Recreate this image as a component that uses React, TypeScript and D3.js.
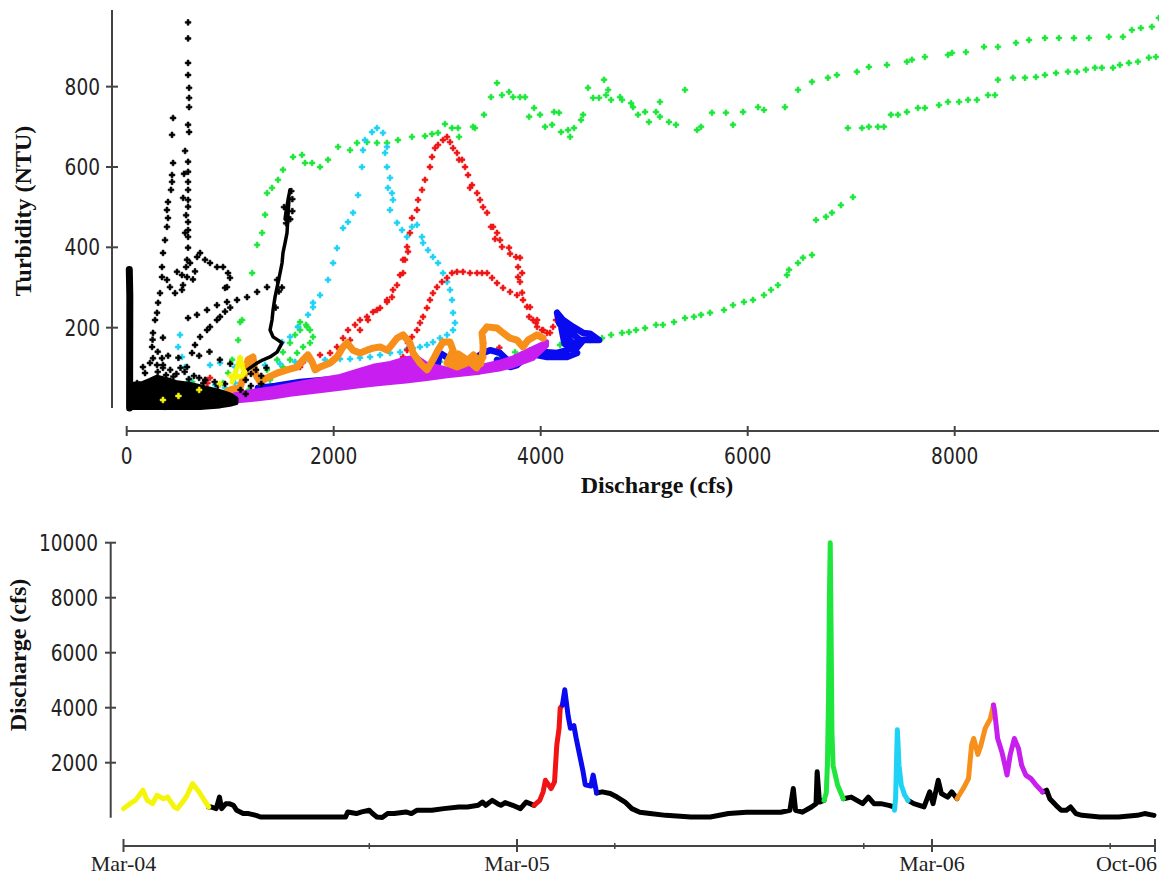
import { useEffect, useRef } from 'react'
import * as d3 from 'd3'

type Pt = [number, number]
type Band = [number, number, number] // discharge, low NTU, high NTU
type Flow = [string, number]

// ---- Top panel: turbidity (NTU) vs discharge (cfs), one colour per storm event ----
const greenDots: Pt[] = [
  [585, 62], [633, 65], [930, 62], [980, 87], [1030, 75], [1048, 50], [1180, 45], [1019, 120], [1077, 169], [1096, 214],
  [1260, 45], [1318, 57], [1385, 70], [1453, 87], [1510, 102], [1578, 120], [1646, 137], [1704, 152], [1771, 162],
  [1800, 177], [1771, 194], [1742, 202], [1733, 207], [1675, 214], [1675, 194], [1627, 182], [1578, 162], [1510, 139],
  [1453, 120], [1356, 95], [1260, 75], [1656, 202],
  [1115, 219], [1212, 336], [1260, 406], [1308, 436], [1337, 481], [1356, 535], [1404, 548], [1462, 568], [1510, 593],
  [1607, 625], [1694, 630], [1723, 610], [1791, 610], [1868, 600], [1945, 618], [2042, 650], [2158, 642], [2225, 660],
  [2322, 662], [2418, 660], [2515, 660], [2621, 667], [2756, 675], [2882, 677], [2950, 682], [3008, 685], [3075, 707],
  [3143, 697], [3201, 697], [3211, 675], [3346, 700], [3365, 697], [3452, 730], [3520, 774], [3578, 809], [3626, 779],
  [3694, 787], [3733, 774], [3800, 774], [3849, 774], [3888, 725], [3936, 747], [3994, 730], [4042, 700], [4110, 705],
  [4129, 737], [4177, 735], [4197, 687], [4264, 692], [4284, 675], [4322, 697], [4390, 717], [4409, 730], [4457, 797],
  [4506, 772], [4564, 772], [4612, 817], [4632, 779], [4651, 792], [4680, 767], [4767, 774], [4786, 767], [4873, 759],
  [4892, 749], [4940, 730], [5008, 737], [5046, 712], [5114, 737], [5152, 725], [5152, 762], [5239, 712], [5307, 705],
  [5394, 792], [5510, 692], [5549, 700], [5655, 735], [5790, 735], [5858, 705], [5955, 737], [6100, 749], [6157, 742],
  [6360, 749], [6486, 792], [6621, 812], [6775, 822], [6862, 829], [7055, 837], [7171, 849], [7345, 854], [7538, 862],
  [7587, 867], [7712, 874], [7935, 879], [7974, 884], [8109, 886], [8283, 899], [8418, 899], [8592, 909], [8718, 916],
  [8872, 921], [9007, 921], [9152, 921], [9297, 921], [9490, 924], [9625, 924], [9712, 941], [9799, 946], [9905, 949],
  [9973, 971],
  [9944, 874], [9876, 872], [9770, 862], [9683, 859], [9596, 854], [9529, 847], [9422, 847], [9355, 847], [9268, 842],
  [9181, 837], [9094, 837], [8979, 834], [8872, 829], [8785, 824], [8679, 822], [8563, 822], [8418, 817], [8389, 779],
  [8322, 779], [8215, 767], [8129, 767], [8042, 762], [7935, 762], [7848, 754], [7712, 747], [7645, 747], [7538, 737],
  [7452, 730], [7384, 730], [7316, 700], [7258, 700], [7171, 700], [7104, 697], [6968, 697],
  [7017, 525], [6901, 505], [6814, 486], [6756, 476], [6660, 468], [6621, 381], [6534, 374], [6486, 361], [6399, 344],
  [6379, 331], [6292, 306], [6225, 294], [6157, 281], [6051, 269], [5964, 264], [5858, 256], [5771, 244], [5636, 237],
  [5549, 232], [5481, 227], [5394, 224], [5288, 214], [5181, 207], [5114, 207], [5008, 199], [4921, 194], [4853, 189],
  [4786, 187], [4680, 182], [4593, 174], [4477, 169], [4332, 164], [4187, 157], [4042, 152], [3897, 144], [3752, 139],
  [3607, 132], [3414, 127], [3220, 120], [3027, 115], [2834, 107], [2641, 100], [2448, 90], [2254, 82], [2061, 75],
]

const cyanDots: Pt[] = [
  [370, 2], [351, 27], [370, 20], [418, 45], [497, 152], [515, 182], [534, 127], [563, 102], [612, 70], [855, 57],
  [950, 50], [1046, 62], [1143, 70], [805, 107], [902, 112],
  [1046, 102], [1191, 105], [1336, 107], [1481, 110], [1626, 115], [1771, 117], [1916, 120], [2061, 122], [2158, 122],
  [2254, 125], [2351, 127], [2448, 132], [2545, 137], [2641, 139], [2709, 147], [2767, 149], [2834, 152], [2901, 157],
  [2959, 164], [3027, 174], [3095, 182], [3153, 194],
  [3172, 212], [3153, 237], [3143, 269], [3124, 294], [3095, 314], [3056, 336], [3008, 361], [2959, 376], [2911, 393],
  [2863, 411], [2853, 426], [2805, 456], [2756, 451], [2708, 426], [2660, 443], [2612, 461], [2544, 493], [2573, 518],
  [2563, 535], [2524, 548], [2544, 573], [2515, 600], [2496, 635], [2515, 650], [2476, 685], [2418, 697], [2370, 687],
  [2302, 667], [2283, 642], [2273, 600], [2235, 530], [2187, 486], [2138, 463], [2090, 448], [2032, 398], [1994, 361],
  [1945, 319], [1868, 281], [1800, 262], [1800, 251], [1752, 232], [1656, 202], [1578, 177], [1501, 164],
]

const redDots: Pt[] = [
  [758, 70], [805, 75], [780, 62], [1675, 102], [1704, 114], [1742, 132], [1868, 132], [1965, 137], [2032, 152],
  [2090, 174], [2138, 194], [2158, 169], [2206, 207], [2254, 219], [2254, 194], [2322, 227], [2331, 219], [2380, 239],
  [2418, 244], [2448, 249], [2515, 269], [2515, 264], [2563, 276], [2573, 294], [2612, 306], [2641, 331], [2670, 336],
  [2670, 369], [2689, 369], [2709, 401], [2718, 389], [2737, 436], [2756, 473], [2805, 493], [2815, 518], [2853, 543],
  [2882, 568], [2930, 600], [2950, 625], [2979, 647], [3008, 655], [3056, 667], [3095, 675], [3124, 662], [3153, 647],
  [3191, 635], [3211, 618], [3240, 618], [3269, 600], [3298, 580], [3317, 548], [3336, 555], [3385, 535], [3414, 518],
  [3443, 500], [3482, 486], [3520, 451], [3540, 451], [3578, 436], [3559, 421], [3607, 418], [3626, 401], [3694, 399],
  [3704, 384], [3762, 376], [3800, 374], [3781, 351], [3820, 336], [3781, 326], [3800, 314], [3820, 287], [3829, 269],
  [3868, 252], [3888, 227], [3926, 219], [3955, 212], [3965, 202], [4013, 194], [4061, 187], [4090, 187], [4119, 202],
  [4148, 219], [4023, 194], [3965, 219], [3897, 251], [3771, 281], [3704, 289], [3636, 299], [3578, 311], [3530, 324],
  [3482, 336], [3433, 336], [3385, 336], [3317, 336], [3249, 339], [3191, 339], [3143, 336], [3095, 324], [3046, 314],
  [2998, 301], [2959, 286], [2930, 269], [2901, 249], [2863, 227], [2834, 212], [2805, 194], [2756, 177], [2718, 162],
  [2709, 144], [2670, 127], [3443, 162], [3600, 150],
]

const blueTrail: Pt[] = [
  [1268, 50], [1433, 55], [1675, 65], [1897, 70], [2129, 75], [2322, 87], [2448, 100], [2641, 90], [2834, 77],
  [2930, 87], [2998, 102], [3027, 137], [3100, 125], [3200, 120], [3300, 118], [3385, 127], [3443, 137], [3511, 144],
  [3607, 137], [3675, 120], [3771, 115], [3868, 124], [3965, 137], [4061, 139], [4158, 137], [4255, 144], [4351, 162],
  [4409, 170], [4477, 169], [4564, 169], [4477, 185], [4409, 187], [4313, 202], [4216, 219], [4158, 237], [4180, 210],
  [4250, 195], [4330, 180], [4400, 165], [4351, 150], [4260, 175], [4200, 200], [4230, 160], [4351, 137], [4255, 127],
  [4158, 127], [4061, 127], [3965, 132], [3897, 132], [3829, 120], [3771, 107], [3704, 102], [3636, 112], [3578, 120],
]

// the dense magenta cloud: lower and upper edge at each discharge
const magentaBand: Band[] = [
  [740, 3, 14], [971, 14, 32], [1200, 20, 42], [1414, 26, 50], [1578, 33, 58], [1742, 38, 66], [2061, 48, 80],
  [2250, 54, 95], [2380, 58, 105], [2545, 62, 112], [2700, 66, 124], [2800, 69, 128], [2900, 72, 110],
  [3095, 79, 98], [3414, 88, 104], [3600, 96, 115], [3733, 104, 126], [3926, 122, 150], [4061, 155, 166],
]

const orangeTrail: Pt[] = [
  [691, 20], [739, 15], [900, 30], [1000, 45], [1096, 52], [1143, 87], [1172, 120], [1220, 127], [1240, 87],
  [1288, 65], [1356, 75], [1453, 87], [1549, 95], [1646, 102], [1704, 120], [1752, 132], [1791, 115], [1820, 95],
  [1868, 102], [1965, 112], [2032, 127], [2090, 152], [2129, 162], [2187, 144], [2254, 137], [2322, 144], [2380, 149],
  [2448, 152], [2515, 144], [2545, 152], [2612, 174], [2670, 182], [2737, 162], [2767, 137], [2834, 112], [2901, 95],
  [2959, 120], [3008, 144], [3056, 164], [3124, 164], [3153, 144], [3095, 112], [3191, 102], [3288, 112], [3385, 120],
  [3443, 127], [3380, 100], [3300, 118], [3200, 135], [3140, 122], [3250, 108], [3350, 132], [3420, 110], [3443, 145],
  [3443, 162], [3433, 187], [3482, 202], [3578, 199], [3636, 187], [3704, 174], [3771, 169], [3829, 152], [3878, 169],
  [3965, 182], [4023, 174],
]

const blackColumn: Pt[] = [[28, 0], [30, 280], [25, 345]]

// the dense black cloud near the origin: lower and upper edge
const blackBand: Band[] = [
  [40, 0, 60], [150, 0, 62], [225, 0, 70], [293, 0, 78], [418, 0, 70], [486, 0, 64], [612, 0, 60],
  [709, 0, 54], [805, 2, 48], [902, 4, 42], [998, 8, 34], [1060, 12, 24],
]

const blackChain: Pt[] = [
  [1578, 543], [1560, 520], [1540, 490], [1530, 470], [1549, 476], [1559, 505], [1569, 525], [1549, 436], [1530, 411],
  [1510, 386], [1501, 361], [1482, 336], [1433, 276], [1414, 244], [1404, 219], [1385, 194], [1414, 177], [1462, 169],
  [1501, 162], [1453, 139], [1385, 127], [1318, 120], [1260, 112], [1192, 100], [1125, 87],
]

const blackDots: Pt[] = [
  [593, 960], [593, 920], [593, 859], [593, 829], [603, 797], [603, 772], [603, 749], [593, 705], [603, 687],
  [593, 613], [593, 588], [593, 563], [593, 543], [593, 518], [593, 501], [593, 463], [593, 443], [593, 426],
  [593, 399], [583, 369], [574, 351], [583, 326], [564, 436], [545, 523], [554, 583], [574, 480], [564, 640],
  [448, 722], [438, 680], [448, 610], [438, 580], [438, 563], [428, 543], [399, 513], [389, 493], [399, 473],
  [389, 451], [370, 418], [351, 386], [341, 351], [341, 326], [322, 286], [303, 262], [293, 237], [274, 219],
  [254, 187], [245, 152], [254, 124], [293, 107], [225, 112], [157, 102], [177, 87], [100, 62], [341, 124], [351, 107],
  [486, 339], [534, 331], [544, 306], [534, 294], [467, 286], [418, 301], [389, 319], [612, 361], [680, 376],
  [709, 386], [757, 369], [805, 361], [873, 351], [931, 351], [979, 336], [998, 324], [969, 301], [950, 299],
  [660, 340], [640, 320],
  [593, 224], [679, 232], [776, 244], [872, 256], [969, 264], [1066, 269], [1163, 276], [1260, 289], [1356, 301],
  [1453, 319], [583, 102], [631, 137], [660, 157], [709, 177], [776, 194], [805, 202], [872, 219], [902, 227],
  [950, 240], [1000, 250], [300, 140], [400, 130], [500, 125], [700, 130], [800, 140], [900, 120], [1000, 110],
  [250, 170], [350, 175], [1520, 500], [1600, 520], [1580, 470], [1600, 490], [1540, 460], [1590, 540], [1500, 300],
  [1470, 290], [1440, 250],
  [300, 90], [350, 100], [420, 95], [480, 85], [520, 100], [560, 90], [650, 80], [700, 75], [760, 70], [850, 65],
  [950, 60], [1150, 70], [1200, 85], [1250, 95], [1300, 80], [1350, 100], [1300, 60], [1200, 55], [380, 82],
  [450, 78], [600, 72], [740, 62], [880, 55], [1100, 45], [1150, 35],
]

const yellowTrail: Pt[] = [
  [1019, 65], [1067, 100], [1096, 125], [1125, 95], [1143, 90], [1110, 80], [1067, 77], [1048, 90],
]
const yellowDots: Pt[] = [
  [1096, 125], [1110, 110], [1000, 80], [900, 60], [700, 45], [500, 30], [350, 20],
]

const topXTicks = [0, 2000, 4000, 6000, 8000]
const topYTicks = [200, 400, 600, 800]

// ---- Bottom panel: discharge hydrograph, coloured by event ----
const yellowFlow: Flow[] = [
  ['2004-03-01', 330], ['2004-03-07', 510], ['2004-03-12', 630], ['2004-03-19', 1000], ['2004-03-23', 630],
  ['2004-03-28', 510], ['2004-04-01', 815], ['2004-04-07', 690], ['2004-04-11', 750], ['2004-04-17', 390],
  ['2004-04-20', 330], ['2004-04-26', 630], ['2004-04-29', 815], ['2004-05-04', 1240], ['2004-05-10', 940],
  ['2004-05-15', 630], ['2004-05-19', 390],
]
const blackFlow1: Flow[] = [
  ['2004-05-19', 390], ['2004-05-21', 390], ['2004-05-26', 330], ['2004-05-29', 750], ['2004-05-31', 330],
  ['2004-06-04', 510], ['2004-06-07', 510], ['2004-06-11', 450], ['2004-06-14', 270], ['2004-06-20', 150],
  ['2004-06-25', 150], ['2004-07-02', 85], ['2004-07-06', 25], ['2004-07-13', 25], ['2004-07-31', 25],
  ['2004-08-17', 25], ['2004-09-04', 25], ['2004-09-23', 25], ['2004-09-25', 210], ['2004-10-03', 150],
  ['2004-10-08', 210], ['2004-10-15', 270], ['2004-10-18', 150], ['2004-10-22', 25], ['2004-10-27', 10],
  ['2004-11-01', 150], ['2004-11-07', 150], ['2004-11-18', 210], ['2004-11-23', 150], ['2004-11-28', 270],
  ['2004-12-12', 270], ['2004-12-23', 330], ['2005-01-06', 390], ['2005-01-14', 390], ['2005-01-24', 450],
  ['2005-01-28', 570], ['2005-01-31', 450], ['2005-02-06', 630], ['2005-02-11', 510], ['2005-02-14', 450],
  ['2005-02-18', 550], ['2005-02-25', 450], ['2005-03-04', 330], ['2005-03-09', 570], ['2005-03-16', 450],
]
const redFlow: Flow[] = [
  ['2005-03-16', 450], ['2005-03-21', 630], ['2005-03-24', 940], ['2005-03-26', 1360], ['2005-03-29', 1180],
  ['2005-03-31', 1060], ['2005-04-03', 1300], ['2005-04-05', 2640], ['2005-04-07', 3250], ['2005-04-08', 3980],
  ['2005-04-10', 4100],
]
const blueFlow: Flow[] = [
  ['2005-04-10', 4100], ['2005-04-12', 4650], ['2005-04-15', 3700], ['2005-04-17', 3250], ['2005-04-20', 3350],
  ['2005-04-22', 2900], ['2005-04-25', 2300], ['2005-04-28', 1700], ['2005-04-30', 1200], ['2005-05-05', 1150],
  ['2005-05-07', 1550], ['2005-05-10', 900],
]
const blackFlow2: Flow[] = [
  ['2005-05-10', 900], ['2005-05-15', 940], ['2005-05-22', 880], ['2005-05-28', 750], ['2005-06-04', 570],
  ['2005-06-10', 330], ['2005-06-17', 200], ['2005-06-26', 150], ['2005-07-10', 85], ['2005-08-01', 25],
  ['2005-08-18', 25], ['2005-09-03', 150], ['2005-09-19', 200], ['2005-10-06', 200], ['2005-10-19', 200],
  ['2005-10-27', 270], ['2005-10-30', 1060], ['2005-11-01', 270], ['2005-11-07', 200], ['2005-11-15', 390],
  ['2005-11-19', 510], ['2005-11-20', 1670], ['2005-11-22', 570], ['2005-11-26', 630],
]
const greenFlow: Flow[] = [
  ['2005-11-26', 630], ['2005-11-28', 900], ['2005-11-29', 1900], ['2005-11-30', 4300], ['2005-11-30T18:00', 8000],
  ['2005-12-01T12:00', 10000], ['2005-12-02T06:00', 6800], ['2005-12-03', 3100], ['2005-12-04', 1900],
  ['2005-12-08', 1180], ['2005-12-13', 690],
]
const blackFlow3: Flow[] = [
  ['2005-12-13', 690], ['2005-12-20', 750], ['2005-12-30', 510], ['2006-01-04', 750], ['2006-01-09', 510],
  ['2006-01-15', 510], ['2006-01-22', 450], ['2006-01-27', 390],
]
const cyanFlow: Flow[] = [
  ['2006-01-27', 270], ['2006-01-28', 700], ['2006-01-29T12:00', 3200], ['2006-01-30', 2800], ['2006-01-31', 1900],
  ['2006-02-02', 1180], ['2006-02-05', 820], ['2006-02-08', 630],
]
const blackFlow4: Flow[] = [
  ['2006-02-08', 630], ['2006-02-13', 510], ['2006-02-22', 390], ['2006-02-27', 940], ['2006-03-02', 510],
  ['2006-03-07', 1360], ['2006-03-10', 880], ['2006-03-16', 750], ['2006-03-20', 940], ['2006-03-25', 690],
]
const orangeFlow: Flow[] = [
  ['2006-03-25', 690], ['2006-03-31', 1060], ['2006-04-05', 1420], ['2006-04-08', 2640], ['2006-04-10', 2880],
  ['2006-04-14', 2300], ['2006-04-17', 2640], ['2006-04-21', 3250], ['2006-04-26', 3600], ['2006-04-29', 4100],
]
const magentaFlow: Flow[] = [
  ['2006-04-29', 4100], ['2006-04-30', 3900], ['2006-05-03', 2880], ['2006-05-07', 2400], ['2006-05-10', 1910],
  ['2006-05-12', 1550], ['2006-05-15', 2280], ['2006-05-19', 2880], ['2006-05-23', 2520], ['2006-05-26', 1910],
  ['2006-05-30', 1550], ['2006-06-04', 1420], ['2006-06-09', 1180], ['2006-06-15', 940],
]
const blackFlow5: Flow[] = [
  ['2006-06-15', 940], ['2006-06-19', 1000], ['2006-06-22', 690], ['2006-06-28', 450], ['2006-07-03', 270],
  ['2006-07-08', 270], ['2006-07-12', 390], ['2006-07-17', 150], ['2006-07-23', 85], ['2006-08-09', 25],
  ['2006-08-27', 25], ['2006-09-14', 85], ['2006-09-21', 150], ['2006-09-30', 85],
]

const bottomYTicks = [2000, 4000, 6000, 8000, 10000]
const dateLabels: [string, string][] = [
  ['2004-03-01', 'Mar-04'], ['2005-03-01', 'Mar-05'], ['2006-03-01', 'Mar-06'], ['2006-10-01', 'Oct-06'],
]
const minorDates = ['2004-10-15', '2005-05-26', '2005-12-31', '2006-08-19']

const C = {
  black: '#000000',
  green: '#1ee63c',
  cyan: '#1ed2f5',
  red: '#f01414',
  blue: '#0a0af0',
  orange: '#f7901a',
  magenta: '#c81ef0',
  yellow: '#f5f50a',
}

const W = 1159
const H = 877
const AXIS = '#444'
const TICK_FONT = "'DejaVu Sans', 'Open Sans', sans-serif"
const TITLE_FONT = "'Liberation Serif', 'Times New Roman', serif"

const parseDay = (s: string) => new Date(s.length === 10 ? `${s}T00:00:00` : `${s}:00`)

const App = () => {
  const ref = useRef<SVGSVGElement>(null)

  useEffect(() => {
    if (!ref.current) return
    const svg = d3.select(ref.current)
    svg.selectAll('*').remove()

    const tickLabel = (
      g: d3.Selection<SVGGElement, unknown, null, undefined>,
      x: number,
      y: number,
      label: string,
      anchor: string
    ) => {
      g.append('text')
        .attr('x', x)
        .attr('y', y)
        .attr('dy', '0.35em')
        .attr('text-anchor', anchor)
        .attr('textLength', label.length * 11.8)
        .attr('lengthAdjust', 'spacingAndGlyphs')
        .style('font-family', TICK_FONT)
        .style('font-stretch', 'condensed')
        .style('font-size', '23px')
        .style('fill', '#222')
        .text(label)
    }

    // ================= TOP: scatter =================
    const top = svg.append('g')
    const x = d3.scaleLinear().domain([0, 10000]).range([126.7, 1161.7])
    const y = d3.scaleLinear().domain([0, 1000]).range([408, 6.3])

    const trail = d3
      .line<Pt>()
      .x((d) => x(d[0]))
      .y((d) => y(d[1]))

    const band = d3
      .area<Band>()
      .x((d) => x(d[0]))
      .y0((d) => y(d[1]))
      .y1((d) => y(d[2]))

    const drawTrail = (data: Pt[], color: string, width: number) => {
      top
        .append('path')
        .datum(data)
        .attr('d', trail)
        .attr('fill', 'none')
        .attr('stroke', color)
        .attr('stroke-width', width)
        .attr('stroke-linejoin', 'round')
        .attr('stroke-linecap', 'round')
    }

    const drawBand = (data: Band[], color: string) => {
      top
        .append('path')
        .datum(data)
        .attr('d', band)
        .attr('fill', color)
        .attr('stroke', color)
        .attr('stroke-width', 4)
        .attr('stroke-linejoin', 'round')
    }

    const marker = d3.symbol().type(d3.symbolCross).size(18)
    const drawDots = (data: Pt[], color: string) => {
      top
        .append('g')
        .selectAll('path')
        .data(data)
        .enter()
        .append('path')
        .attr('d', marker)
        .attr('transform', (d) => `translate(${x(d[0])},${y(d[1])})`)
        .attr('fill', color)
        .attr('stroke', color)
        .attr('stroke-width', 0.6)
    }

    drawDots(greenDots, C.green)
    drawDots(cyanDots, C.cyan)
    drawDots(redDots, C.red)
    drawTrail(blueTrail, C.blue, 6.5)
    drawBand(magentaBand, C.magenta)
    drawTrail(orangeTrail, C.orange, 7)
    drawTrail(blackColumn, C.black, 7)
    drawBand(blackBand, C.black)
    drawTrail(blackChain, C.black, 3.5)
    drawDots(blackDots, C.black)
    drawTrail(yellowTrail, C.yellow, 5)
    drawDots(yellowDots, C.yellow)

    // y axis
    top.append('line')
      .attr('x1', 112).attr('x2', 112)
      .attr('y1', 10).attr('y2', y(0))
      .attr('stroke', AXIS).attr('stroke-width', 2)
    topYTicks.forEach((t) => {
      top.append('line')
        .attr('x1', 106).attr('x2', 118)
        .attr('y1', y(t)).attr('y2', y(t))
        .attr('stroke', AXIS).attr('stroke-width', 2)
      tickLabel(top, 100, y(t), String(t), 'end')
    })

    // x axis
    const axisY = 431
    top.append('line')
      .attr('x1', x(0)).attr('x2', W)
      .attr('y1', axisY).attr('y2', axisY)
      .attr('stroke', AXIS).attr('stroke-width', 2.2)
    topXTicks.forEach((t) => {
      top.append('line')
        .attr('x1', x(t)).attr('x2', x(t))
        .attr('y1', axisY - 5).attr('y2', axisY + 5)
        .attr('stroke', AXIS).attr('stroke-width', 2)
      tickLabel(top, x(t), 456, String(t), 'middle')
    })

    top.append('text')
      .attr('x', 657)
      .attr('y', 493)
      .attr('text-anchor', 'middle')
      .style('font-family', TITLE_FONT)
      .style('font-weight', '700')
      .style('font-size', '24px')
      .style('fill', '#111')
      .text('Discharge (cfs)')

    top.append('text')
      .attr('transform', 'translate(23,211) rotate(-90)')
      .attr('dy', '0.35em')
      .attr('text-anchor', 'middle')
      .style('font-family', TITLE_FONT)
      .style('font-weight', '700')
      .style('font-size', '24px')
      .style('fill', '#111')
      .text('Turbidity (NTU)')

    // ================= BOTTOM: hydrograph =================
    const bot = svg.append('g')
    const bx = d3
      .scaleTime()
      .domain(dateLabels.map((d) => parseDay(d[0])))
      .range([123.5, 517, 932, 1155])
    const by = d3.scaleLinear().domain([0, 10000]).range([817.7, 542.7])

    const flowLine = d3
      .line<Flow>()
      .x((d) => bx(parseDay(d[0])))
      .y((d) => by(d[1]))

    const segments: [Flow[], string][] = [
      [blackFlow1, C.black],
      [blackFlow2, C.black],
      [blackFlow3, C.black],
      [blackFlow4, C.black],
      [blackFlow5, C.black],
      [yellowFlow, C.yellow],
      [redFlow, C.red],
      [blueFlow, C.blue],
      [greenFlow, C.green],
      [cyanFlow, C.cyan],
      [orangeFlow, C.orange],
      [magentaFlow, C.magenta],
    ]
    segments.forEach(([data, color]) => {
      bot.append('path')
        .datum(data)
        .attr('d', flowLine)
        .attr('fill', 'none')
        .attr('stroke', color)
        .attr('stroke-width', 5)
        .attr('stroke-linejoin', 'round')
        .attr('stroke-linecap', 'round')
    })

    // y axis
    bot.append('line')
      .attr('x1', 110.7).attr('x2', 110.7)
      .attr('y1', by(10000)).attr('y2', by(0))
      .attr('stroke', AXIS).attr('stroke-width', 2)
    bottomYTicks.forEach((t) => {
      bot.append('line')
        .attr('x1', 105).attr('x2', 116)
        .attr('y1', by(t)).attr('y2', by(t))
        .attr('stroke', AXIS).attr('stroke-width', 2)
      tickLabel(bot, 98, by(t), String(t), 'end')
    })

    // x axis
    const baseY = 846
    bot.append('line')
      .attr('x1', bx(parseDay('2004-03-01'))).attr('x2', bx(parseDay('2006-10-01')))
      .attr('y1', baseY).attr('y2', baseY)
      .attr('stroke', AXIS).attr('stroke-width', 2)
    minorDates.forEach((d) => {
      bot.append('line')
        .attr('x1', bx(parseDay(d))).attr('x2', bx(parseDay(d)))
        .attr('y1', baseY - 3).attr('y2', baseY + 3)
        .attr('stroke', AXIS).attr('stroke-width', 1.5)
    })
    dateLabels.forEach(([d, label], i) => {
      const px = bx(parseDay(d))
      const last = i === dateLabels.length - 1
      bot.append('line')
        .attr('x1', px).attr('x2', px)
        .attr('y1', baseY - 7).attr('y2', baseY + 6)
        .attr('stroke', AXIS).attr('stroke-width', 2)
      bot.append('text')
        .attr('x', last ? px + 2 : px)
        .attr('y', 871)
        .attr('text-anchor', last ? 'end' : 'middle')
        .style('font-family', TITLE_FONT)
        .style('font-size', '22px')
        .style('fill', '#222')
        .text(label)
    })

    bot.append('text')
      .attr('transform', 'translate(18,655) rotate(-90)')
      .attr('dy', '0.35em')
      .attr('text-anchor', 'middle')
      .style('font-family', TITLE_FONT)
      .style('font-weight', '700')
      .style('font-size', '24px')
      .style('fill', '#111')
      .text('Discharge (cfs)')
  }, [])

  return (
    <svg
      ref={ref}
      width={W}
      height={H}
      style={{ position: 'absolute', left: 0, top: 0, background: '#fff' }}
    />
  )
}

export default App
